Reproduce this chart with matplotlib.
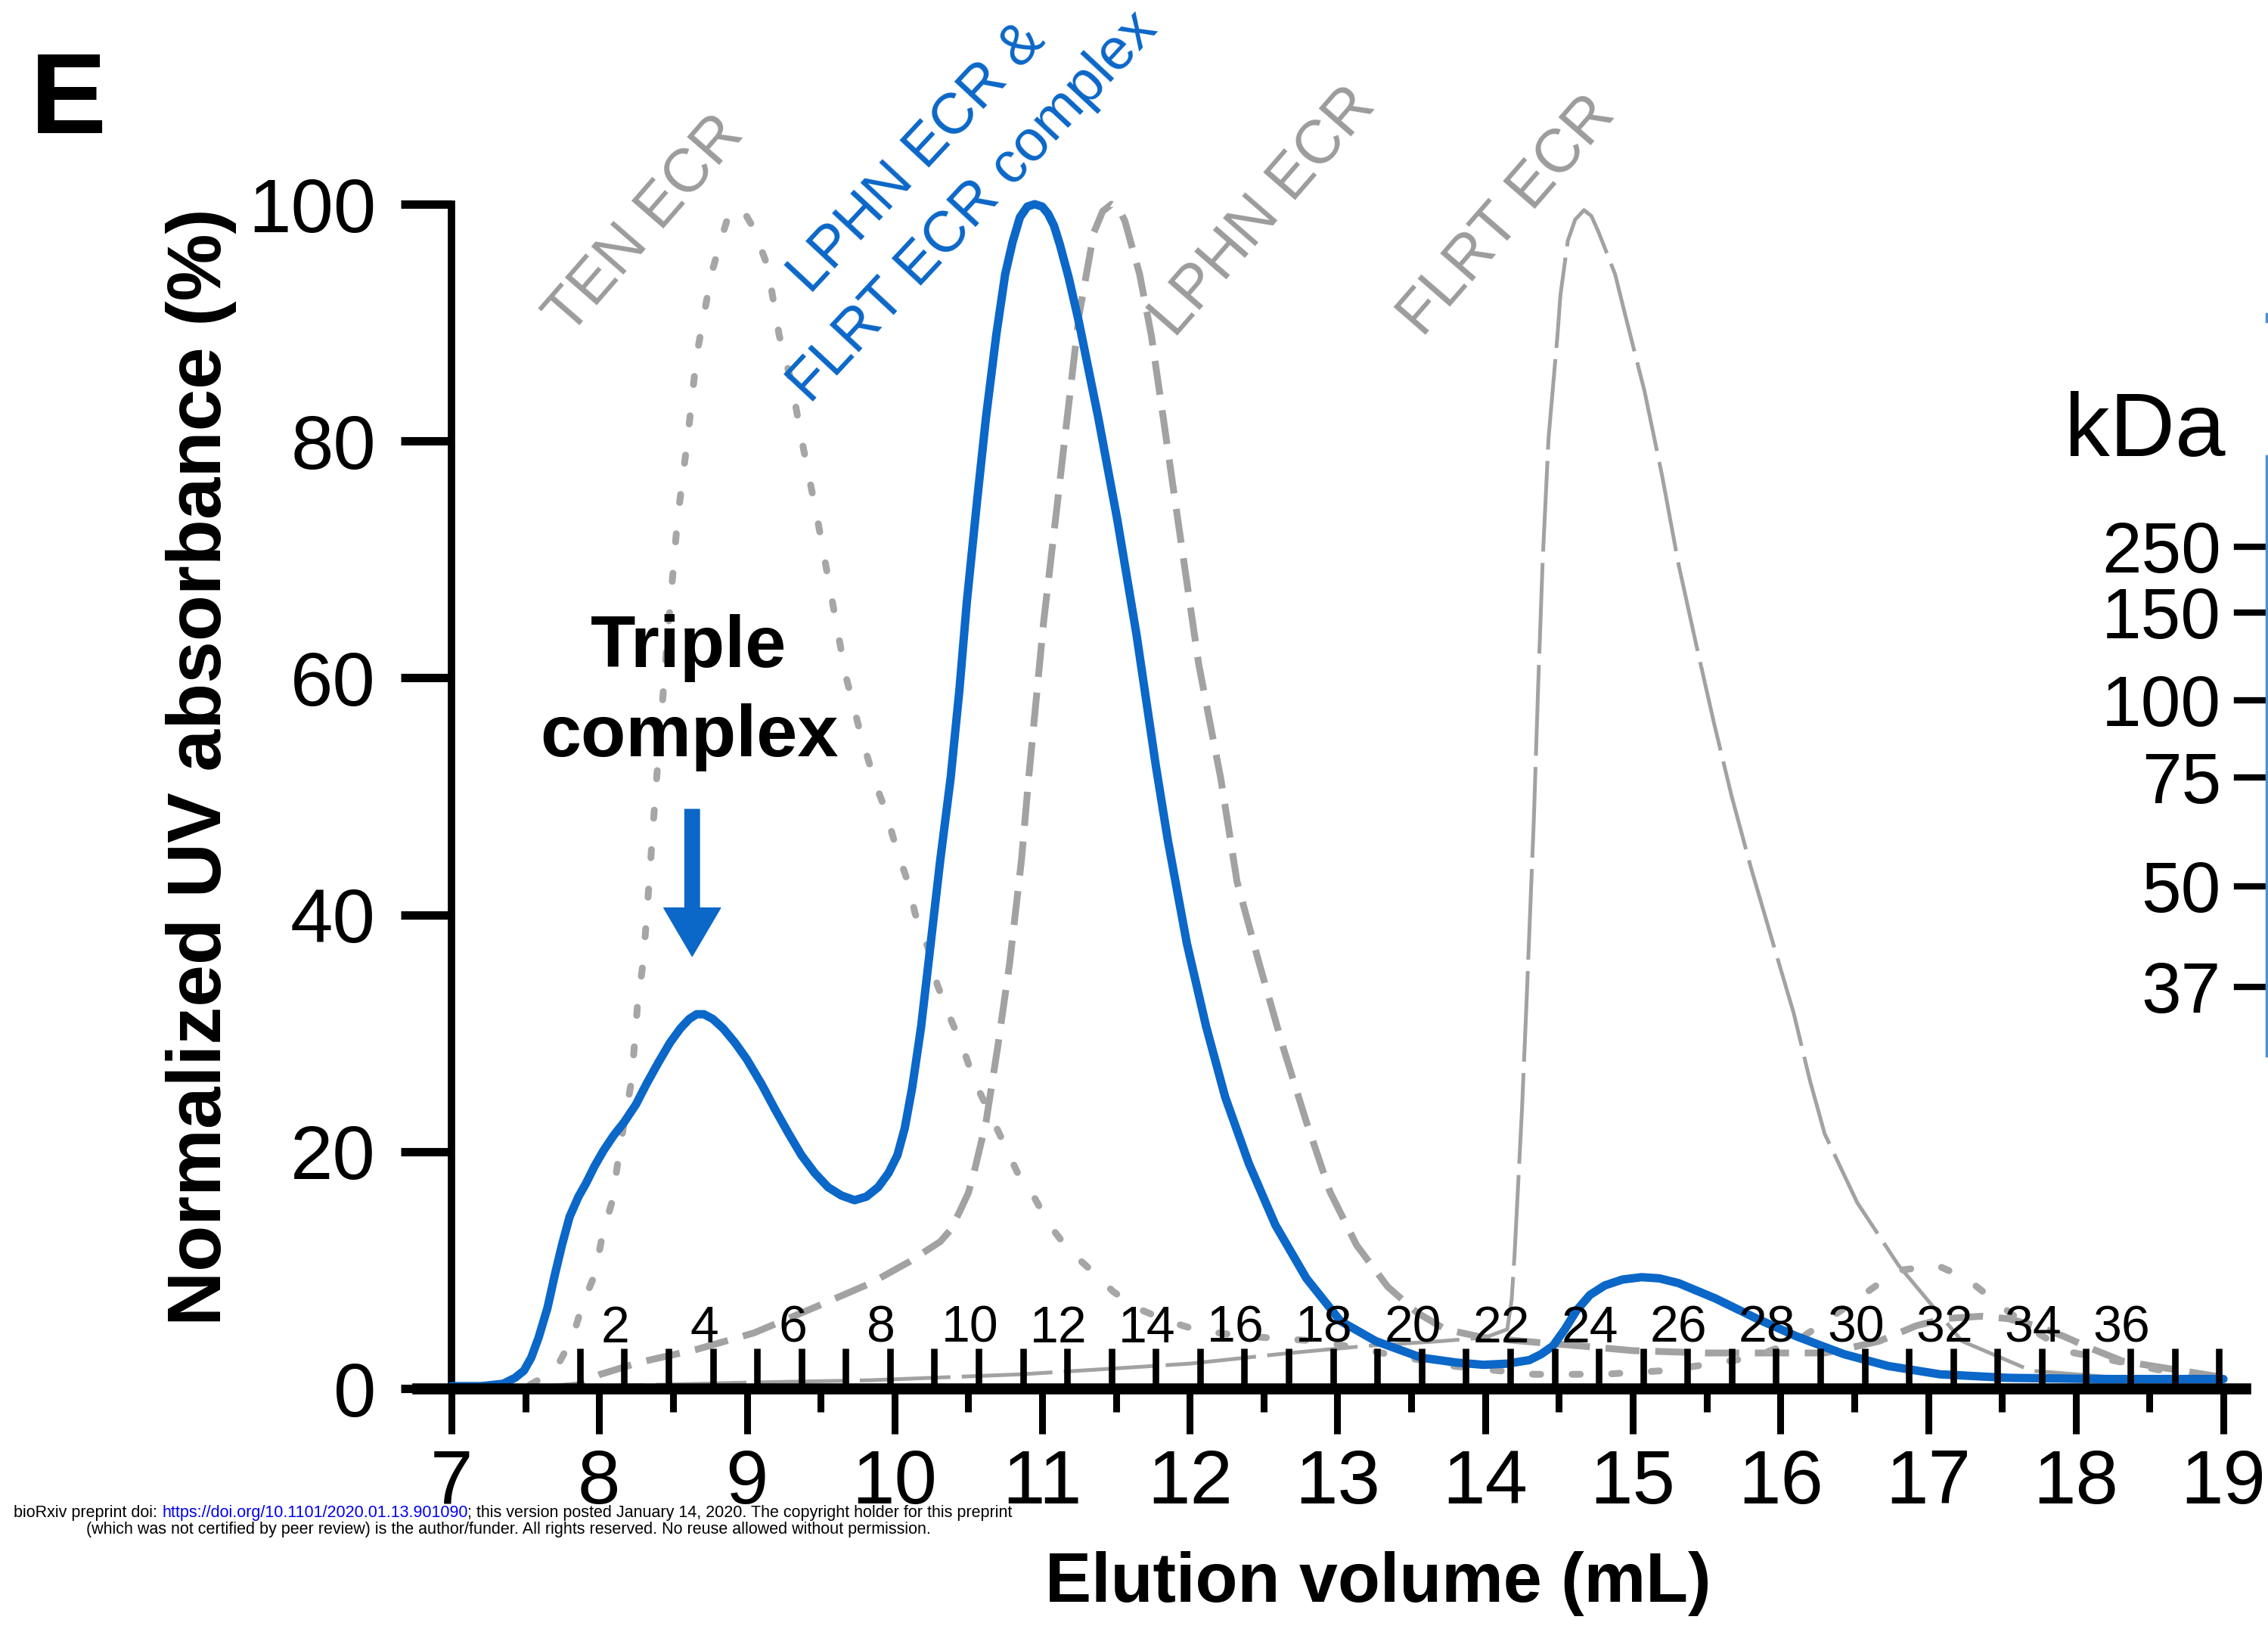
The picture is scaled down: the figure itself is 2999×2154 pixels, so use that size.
import matplotlib

matplotlib.use("Agg", force=True)
import matplotlib.pyplot as plt
from matplotlib import font_manager
from matplotlib.patches import FancyArrowPatch

# ---- data (elution volume mL, normalized UV %) ----
BLUE_X = [7.00, 7.20, 7.35, 7.43, 7.49, 7.54, 7.59, 7.65, 7.70, 7.75, 7.80, 7.86, 7.91, 7.97,
          8.03, 8.10, 8.17, 8.25, 8.32, 8.40, 8.48, 8.55, 8.61, 8.66, 8.71, 8.77, 8.84, 8.92,
          9.00, 9.10, 9.19, 9.28, 9.37, 9.46, 9.55, 9.64, 9.73, 9.81, 9.89, 9.96, 10.02, 10.07,
          10.12, 10.18, 10.23, 10.31, 10.38, 10.44, 10.49, 10.56, 10.62, 10.69, 10.75, 10.80,
          10.85, 10.90, 10.95, 11.00, 11.04, 11.08, 11.12, 11.18, 11.25, 11.38, 11.51, 11.64,
          11.77, 11.85, 11.98, 12.11, 12.24, 12.40, 12.58, 12.79, 13.02, 13.26, 13.57, 13.80,
          13.99, 14.15, 14.30, 14.38, 14.46, 14.54, 14.62, 14.71, 14.81, 14.93, 15.06, 15.18,
          15.31, 15.56, 15.84, 16.11, 16.43, 16.73, 17.08, 17.54, 18.16, 19.00]
BLUE_Y = [0.2, 0.2, 0.4, 0.9, 1.5, 2.6, 4.3, 6.8, 9.6, 12.2, 14.5, 16.2, 17.3, 18.8,
          20.1, 21.4, 22.5, 24.0, 25.7, 27.5, 29.2, 30.4, 31.2, 31.6, 31.6, 31.2, 30.4, 29.2,
          27.8, 25.7, 23.6, 21.6, 19.7, 18.2, 17.0, 16.3, 15.9, 16.2, 17.0, 18.2, 19.7, 22.0,
          25.4, 30.5, 35.9, 44.6, 51.5, 59.0, 66.4, 75.0, 82.0, 89.0, 94.1, 96.8,
          98.9, 99.8, 100.0, 99.8, 99.2, 98.2, 96.6, 93.8, 90.0, 82.0, 73.3, 63.6,
          52.6, 46.4, 37.6, 30.6, 24.6, 19.0, 13.8, 9.3, 5.7, 4.0, 2.6, 2.2,
          2.0, 2.1, 2.4, 2.9, 3.6, 5.0, 6.6, 7.9, 8.7, 9.2, 9.4, 9.3,
          8.9, 7.6, 5.9, 4.4, 2.9, 1.9, 1.2, 0.9, 0.8, 0.8]

TEN_X = [7.00, 7.50, 7.70, 7.82, 7.89, 7.97, 8.02, 8.09, 8.13, 8.17, 8.22, 8.26, 8.30, 8.34,
         8.38, 8.46, 8.53, 8.60, 8.66, 8.76, 8.83, 8.87, 8.92, 8.97, 9.04, 9.14, 9.22, 9.30,
         9.38, 9.48, 9.58, 9.67, 9.77, 9.87, 9.94, 10.01, 10.09, 10.14, 10.23, 10.29, 10.37,
         10.46, 10.54, 10.73, 10.83, 10.94, 11.05, 11.18, 11.33, 11.48, 11.64, 11.85, 12.06,
         12.32, 12.61, 12.89, 13.30, 13.78, 14.33, 14.80, 15.20, 15.43, 15.80, 16.11, 16.40,
         16.65, 16.82, 17.06, 17.26, 17.43, 17.70, 17.95, 18.20, 18.44, 18.70, 18.91]
TEN_Y = [0.0, 0.1, 1.5, 4.3, 7.2, 9.6, 12.8, 15.9, 19.4, 22.5, 26.0, 32.4, 36.2, 43.0,
         50.0, 63.0, 73.3, 80.3, 87.2, 94.1, 97.2, 98.8, 99.6, 99.6, 98.1, 94.8, 88.9, 85.1,
         79.6, 73.3, 66.4, 60.2, 55.3, 51.1, 48.8, 45.7, 42.8, 40.1, 37.1, 34.1, 31.5,
         28.9, 26.0, 21.0, 18.3, 16.3, 13.8, 11.7, 10.0, 8.2, 6.8, 5.7, 4.9,
         4.5, 4.2, 4.0, 3.0, 1.9, 1.2, 1.2, 1.5, 1.9, 2.6, 4.0, 6.5,
         8.7, 10.0, 10.4, 9.3, 7.6, 5.0, 3.1, 2.5, 1.9, 1.2, 0.4]

LPHN_X = [7.00, 7.60, 7.85, 8.01, 8.27, 8.66, 9.05, 9.45, 9.84, 10.10, 10.31, 10.38, 10.44,
          10.50, 10.54, 10.62, 10.70, 10.78, 10.86, 10.91, 11.01, 11.09, 11.17, 11.25, 11.35,
          11.41, 11.47, 11.52, 11.56, 11.66, 11.74, 11.82, 11.90, 11.98, 12.06, 12.14, 12.21,
          12.32, 12.47, 12.63, 12.79, 12.95, 13.13, 13.34, 13.54, 13.73, 13.99, 14.25, 14.64,
          15.00, 15.50, 16.00, 16.30, 16.46, 16.67, 16.92, 17.11, 17.36, 17.54, 17.73, 17.92,
          18.10, 18.32, 18.72, 18.97]
LPHN_Y = [0.0, 0.0, 0.3, 1.2, 2.2, 3.3, 4.7, 6.8, 8.9, 10.7, 12.4, 13.4, 14.9,
          16.5, 18.3, 22.5, 28.9, 35.9, 44.6, 51.7, 64.7, 73.3, 82.0, 90.6, 97.6,
          99.4, 100.0, 99.6, 98.6, 94.1, 88.9, 82.0, 75.0, 68.1, 61.2, 56.0, 51.5,
          42.8, 35.9, 28.9, 22.5, 16.6, 12.1, 8.6, 6.4, 5.0, 4.3, 4.0, 3.6,
          3.2, 3.0, 3.0, 3.0, 3.4, 4.0, 5.3, 5.9, 6.1, 5.9, 5.3, 4.4,
          3.4, 2.3, 1.5, 1.0]

FLRT_X = [7.00, 8.00, 9.00, 9.84, 10.86, 11.50, 12.00, 12.68, 13.20, 13.70, 14.00, 14.15,
          14.18, 14.20, 14.25, 14.28, 14.33, 14.36, 14.39, 14.43, 14.49, 14.51, 14.56, 14.61,
          14.67, 14.72, 14.77, 14.88, 14.95, 15.08, 15.20, 15.31, 15.43, 15.55, 15.67, 15.80,
          15.95, 16.09, 16.20, 16.30, 16.52, 16.80, 17.23, 17.70, 18.20, 19.00]
FLRT_Y = [0.0, 0.2, 0.5, 0.7, 1.2, 1.7, 2.1, 3.0, 3.6, 4.0, 4.3, 5.0,
          7.5, 11.4, 23.6, 32.4, 48.0, 59.5, 69.9, 80.3, 88.9, 92.3, 96.9, 98.7,
          99.5, 99.0, 97.6, 94.1, 90.6, 84.2, 77.0, 69.6, 62.8, 56.2, 50.0, 44.0,
          37.6, 31.7, 26.0, 21.5, 15.7, 10.4, 4.0, 1.5, 1.0, 0.8]

FRACTION_START = 7.87   # mL, start of fraction 1
FRACTION_VOLUME = 0.3   # mL per fraction
N_FRACTIONS = 37
FRACTION_LABELS = list(range(2, 37, 2))

LADDER_KDA = ["250", "150", "100", "75", "50", "37"]
LADDER_Y_PX = [723, 810, 926, 1028, 1172, 1305]

BLUE = "#0b67c8"
GRAY = "#a2a2a2"
GRAY_TEXT = "#9c9c9c"

W, H, DPI = 2999, 2154, 100

names = {f.name for f in font_manager.fontManager.ttflist}
NARROW = "Liberation Sans Narrow" if "Liberation Sans Narrow" in names else "Liberation Sans"
plt.rcParams["font.family"] = ["Liberation Sans", "DejaVu Sans"]

# pixel mapping of the reference axes
X7_PX, X19_PX = 597.0, 2940.0
Y0_PX, Y100_PX = 1836.0, 270.0
XLIM = (6.77, 19.15)
YLIM = (-3.2, 104.0)


def px_x(v):
    return X7_PX + (v - 7.0) * (X19_PX - X7_PX) / 12.0


def px_y(v):
    return Y0_PX - v * (Y0_PX - Y100_PX) / 100.0


fig = plt.figure(figsize=(W / DPI, H / DPI), dpi=DPI)
left, right = px_x(XLIM[0]), px_x(XLIM[1])
bottom, top = px_y(YLIM[0]), px_y(YLIM[1])
ax = fig.add_axes([left / W, 1 - bottom / H, (right - left) / W, (bottom - top) / H])
ov = fig.add_axes([0, 0, 1, 1], zorder=-1)
ov.set_xlim(0, W)
ov.set_ylim(H, 0)
ov.axis("off")

ax.set_xlim(*XLIM)
ax.set_ylim(*YLIM)
ax.patch.set_alpha(0)

# curves
ax.plot(FLRT_X, FLRT_Y, color=GRAY, lw=3.6, ls=(0, (24, 3)), zorder=2)
ax.plot(LPHN_X, LPHN_Y, color=GRAY, lw=6.5, ls=(0, (5, 2.3)), zorder=2)
ax.plot(TEN_X, TEN_Y, color="#a6a6a6", lw=6.5, ls=(0, (1.2, 4.6)), dash_capstyle="round", zorder=2)
ax.plot(BLUE_X, BLUE_Y, color=BLUE, lw=8.0, zorder=3, solid_capstyle="round", solid_joinstyle="round")

# fraction ticks and labels
edges = [FRACTION_START + FRACTION_VOLUME * k for k in range(N_FRACTIONS + 1)]
ax.vlines(edges, 0, 3.4, colors="black", linewidth=6.2, zorder=5)
for n in FRACTION_LABELS:
    xc = FRACTION_START + FRACTION_VOLUME * (n - 1) - 0.06
    ax.text(xc, 3.9, str(n), ha="center", va="baseline", fontsize=49, family=NARROW, zorder=5)

# axes styling
for side in ("top", "right"):
    ax.spines[side].set_visible(False)
ax.spines["bottom"].set_position(("data", 0))
ax.spines["bottom"].set_linewidth(10.5)
ax.spines["bottom"].set_zorder(6)
ax.spines["left"].set_position(("data", 7))
ax.spines["left"].set_bounds(0, 100)
ax.spines["left"].set_linewidth(7)
ax.set_xticks(range(7, 20))
ax.set_xticks([v + 0.5 for v in range(7, 19)], minor=True)
ax.set_yticks(range(0, 101, 20))
ax.tick_params(axis="x", which="major", direction="out", length=43, width=6.5, pad=14, labelsize=73)
ax.tick_params(axis="x", which="minor", direction="out", length=22, width=6.5)
ax.tick_params(axis="y", direction="out", length=48, width=8, pad=24, labelsize=73)
for lbl in ax.get_xticklabels() + ax.get_yticklabels():
    lbl.set_fontfamily(NARROW)

ax.set_xlabel("Elution volume (mL)", fontsize=66, fontweight="bold")
ax.xaxis.set_label_coords(1822, 2094, transform=ov.transData)
ax.xaxis.label.set_va("center")
ax.set_ylabel("Normalized UV absorbance (%)", fontsize=72, fontweight="bold")
ax.yaxis.set_label_coords(266, 1014, transform=ov.transData)
ax.yaxis.label.set_va("center")

# peak labels
gray_kw = dict(rotation=49, rotation_mode="anchor", ha="left", va="baseline", fontsize=58, color=GRAY_TEXT)
blue_kw = dict(rotation=47, rotation_mode="anchor", ha="left", va="baseline", fontsize=55, color=BLUE)
ax.text(7.80, 88.8, "TEN ECR", **gray_kw)
ax.text(11.90, 88.6, "LPHN ECR", **gray_kw)
ax.text(13.58, 88.7, "FLRT ECR", **gray_kw)
ax.text(9.43, 92.3, "LPHN ECR &", **blue_kw)
ax.text(9.43, 83.1, "FLRT ECR complex", **blue_kw)

ax.text(8.605, 60.9, "Triple", ha="center", va="baseline", fontsize=70, fontweight="bold")
ax.text(8.61, 53.4, "complex", ha="center", va="baseline", fontsize=70, fontweight="bold")
ax.add_patch(FancyArrowPatch((8.63, 48.9), (8.63, 36.5), arrowstyle="simple,head_length=46,head_width=54,tail_width=14",
                             mutation_scale=1, shrinkA=0, shrinkB=0, color=BLUE, zorder=4))

# panel letter
ov.text(40, 176, "E", fontsize=109, fontweight="bold", ha="left", va="baseline")

# gel ladder on the right
ov.text(2943, 603, "kDa", fontsize=86, ha="right", va="baseline")
for lab, yp in zip(LADDER_KDA, LADDER_Y_PX):
    ov.text(2937, yp + 34, lab, fontsize=68, ha="right", va="baseline")
    ov.plot([2958, 2999], [yp, yp], color="black", lw=6)
ov.plot([2997, 2997], [603, 1396], color="#4d8fd6", lw=2.5)
ov.plot([2997, 2997], [415, 425], color="#4d8fd6", lw=2.5)

# preprint footer
t1 = ov.text(18, 2006, "bioRxiv preprint doi: ", fontsize=15.5, family=NARROW, va="baseline", ha="left")
t2 = ov.annotate("https://doi.org/10.1101/2020.01.13.901090", xy=(1, 0), xycoords=t1, fontsize=15.5,
                 family=NARROW, va="bottom", ha="left", color="#0000ee")
ov.annotate("; this version posted January 14, 2020. The copyright holder for this preprint", xy=(1, 0),
            xycoords=t2, fontsize=15.5, family=NARROW, va="bottom", ha="left")
ov.text(672, 2028, "(which was not certified by peer review) is the author/funder. All rights reserved. "
        "No reuse allowed without permission.", fontsize=15.5, family=NARROW, va="baseline", ha="center")

fig.savefig("out.png", dpi=DPI)
